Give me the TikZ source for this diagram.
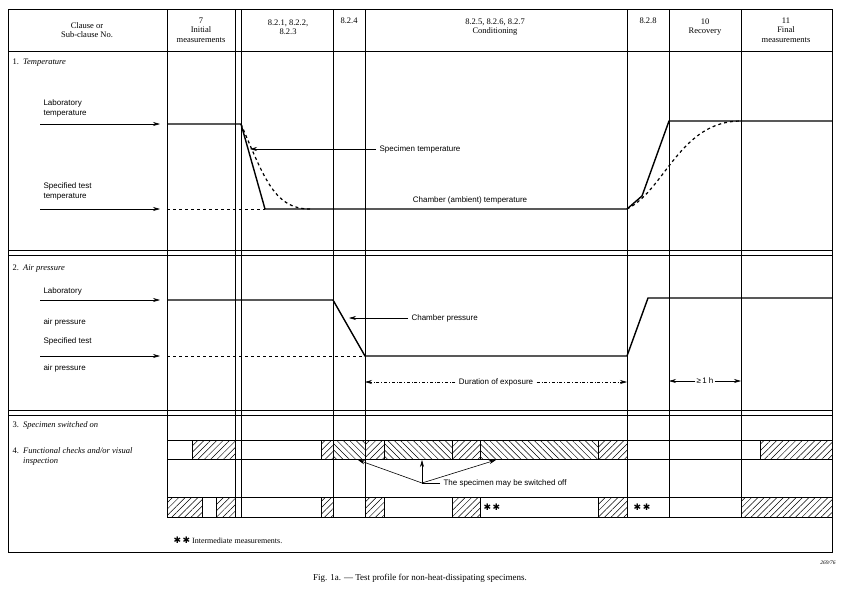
\documentclass[tikz,border=0pt]{standalone}
\usepackage{fontspec}
\setmainfont{Liberation Serif}
\newfontfamily\lsans{Liberation Sans}
\newfontfamily\djv{DejaVu Sans}
\usetikzlibrary{patterns.meta,arrows.meta}
\begin{document}
\begin{tikzpicture}[x=1pt,y=-1pt,
  grid/.style={line width=0.6pt},
  prof/.style={line width=1.4pt},
  dsh/.style={dashed,line width=0.6pt},
  hf/.style={draw,line width=0.5pt,pattern={Lines[angle=45,distance=4.5pt,line width=0.5pt]}},
  hb/.style={draw,line width=0.5pt,pattern={Lines[angle=-45,distance=4.5pt,line width=0.5pt]}},
  hd/.style={font=\fontsize{8.5}{9.5}\selectfont,align=center},
  lab/.style={font=\fontsize{8}{10}\selectfont\lsans,align=left,anchor=west},
  sec/.style={font=\fontsize{8.5}{10}\selectfont,anchor=west},
  cal/.style={font=\fontsize{8}{9}\selectfont\lsans},
  star/.style={font=\fontsize{9}{9}\selectfont\djv},
  arr/.style={-{Stealth[length=7pt,width=4pt]},line width=0.6pt}]
\useasboundingbox (0,0) rectangle (847,600);
% frame
\draw[grid] (8,9) rectangle (832,552);
\draw[grid] (8,51) -- (832,51);
\foreach \y in {250,255,410,415} \draw[grid] (8,\y) -- (832,\y);
\foreach \x in {167,235,241,333,365,627,669,741} \draw[grid] (\x,9) -- (\x,517);
\draw[grid] (167,517) -- (832,517);
\foreach \y in {440,459,497} \draw[grid] (167,\y) -- (832,\y);
% header
\node[hd] (h0) at (87,30) {Clause or\\Sub-clause No.};
\node[hd] (h1) at (201,30) {7\\Initial\\measurements};
\node[hd] (h2) at (288,27) {8.2.1, 8.2.2,\\8.2.3};
\node[hd] (h3) at (349,21) {8.2.4};
\node[hd] (h4) at (495,27) {8.2.5, 8.2.6, 8.2.7\\Conditioning};
\node[hd] (h5) at (648,21) {8.2.8};
\node[hd] (h6) at (705,27) {10\\Recovery};
\node[hd] (h7) at (786,30) {11\\Final\\measurements};
% section labels
\node[sec] (s1) at (9,63) {1.\ \ \textit{Temperature}};
\node[sec] (s2) at (9,269) {2.\ \ \textit{Air pressure}};
\node[sec] (s3) at (9,425) {3.\ \ \textit{Specimen switched on}};
\node[sec,align=left,anchor=north west] (s4) at (9,444) {4.\ \ \textit{Functional checks and/or visual}\\\phantom{4.\ \ }\textit{inspection}};
\node[lab] (l1) at (40,108) {Laboratory\\temperature};
\node[lab] (l2) at (40,191) {Specified test\\temperature};
\node[lab] (l3) at (40,291) {Laboratory};
\node[lab] (l3b) at (40,322) {air pressure};
\node[lab] (l4) at (40,341) {Specified test};
\node[lab] (l4b) at (40,368) {air pressure};
\coordinate (a1s) at (40,124); \coordinate (a1e) at (160,124);
\coordinate (a2s) at (40,209); \coordinate (a2e) at (160,209);
\coordinate (a3s) at (40,300); \coordinate (a3e) at (160,300);
\coordinate (a4s) at (40,356); \coordinate (a4e) at (160,356);
\foreach \n in {1,2,3,4} \draw[arr] (a\n s) -- (a\n e);
% temperature
\coordinate (t0) at (167,124); \coordinate (t1) at (241,124);
\coordinate (t2) at (265,209); \coordinate (t3) at (627,209);
\coordinate (t4) at (642,196); \coordinate (t5) at (669,121);
\coordinate (t6) at (832,121);
\draw[prof] (t0) -- (t1) -- (t2) -- (t3) -- (t4) -- (t5) -- (t6);
\draw[dsh] (167,209) -- (265,209);
\draw[dashed,line width=1.2pt] (t1) .. controls (265,180) and (275,209) .. (310,209);
\draw[dashed,line width=1.2pt] (t3) .. controls (665,190) and (680,121) .. (741,121);
\node[cal,anchor=west] (st) at (376,149) {Specimen temperature};
\coordinate (stt) at (250,149);
\draw[arr] (st.west) -- (stt);
\node[cal,fill=white,inner sep=1pt] (ct) at (470,200) {Chamber (ambient) temperature};
% pressure
\coordinate (p0) at (167,300); \coordinate (p1) at (333,300);
\coordinate (p2) at (365,356); \coordinate (p3) at (627,356);
\coordinate (p4) at (648,298); \coordinate (p5) at (832,298);
\draw[prof] (p0) -- (p1) -- (p2) -- (p3) -- (p4) -- (p5);
\draw[dsh] (167,356) -- (365,356);
\node[cal,anchor=west] (cp) at (408,318) {Chamber pressure};
\coordinate (cpt) at (349,318);
\draw[arr] (cp.west) -- (cpt);
\node[cal,fill=white] (de) at (496,382) {Duration of exposure};
\coordinate (del) at (365,382); \coordinate (der) at (627,382);
\draw[arr,dash dot] (de.west) -- (del);
\draw[arr,dash dot] (de.east) -- (der);
\node[cal,fill=white,inner sep=1pt] (oh) at (705,381) {≥\,1 h};
\coordinate (ohl) at (669,381); \coordinate (ohr) at (741,381);
\draw[arr] (oh.west) -- (ohl);
\draw[arr] (oh.east) -- (ohr);
% row 4 hatching
\path[hf] (192,440) rectangle (235,459);
\path[hf] (321,440) rectangle (333,459);
\path[hb] (333,440) rectangle (365,459);
\path[hf] (365,440) rectangle (384,459);
\path[hb] (384,440) rectangle (452,459);
\path[hf] (452,440) rectangle (480,459);
\path[hb] (480,440) rectangle (598,459);
\path[hf] (598,440) rectangle (627,459);
\path[hf] (760,440) rectangle (832,459);
% row 5 hatching
\path[hf] (167,497) rectangle (202,517);
\path[hf] (216,497) rectangle (235,517);
\path[hf] (321,497) rectangle (333,517);
\path[hf] (365,497) rectangle (384,517);
\path[hf] (452,497) rectangle (480,517);
\path[hf] (598,497) rectangle (627,517);
\path[hf] (741,497) rectangle (832,517);
\node[star] (m1) at (492,507) {✱\,✱};
\node[star] (m2) at (642,507) {✱\,✱};
% switched off
\node[cal,anchor=west] (so) at (440,483) {The specimen may be switched off};
\coordinate (j) at (422,483);
\coordinate (o1) at (358,460); \coordinate (o2) at (422,460); \coordinate (o3) at (496,460);
\draw[line width=0.6pt] (so.west) -- (j);
\foreach \n in {1,2,3} \draw[arr] (j) -- (o\n);
% footer
\node[anchor=west,font=\fontsize{8}{9}\selectfont] (fn) at (170,540) {{\djv\fontsize{9}{9}\selectfont ✱\,✱}\ Intermediate measurements.};
\node[font=\fontsize{9}{10}\selectfont] (cap) at (420,578) {\textsc{Fig.} 1a. --- Test profile for non-heat-dissipating specimens.};
\node[font=\fontsize{5.5}{6}\selectfont\itshape] (ref) at (828,563) {269/76};
\end{tikzpicture}
\end{document}
